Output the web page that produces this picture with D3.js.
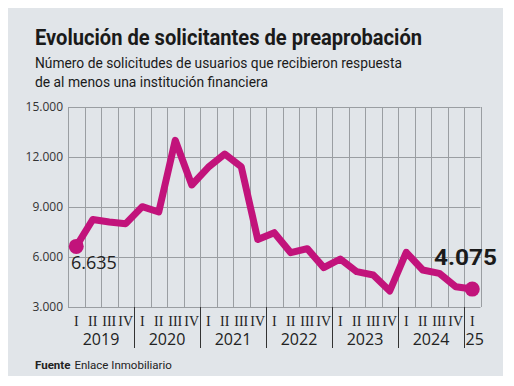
<!DOCTYPE html>
<html>
<head>
<meta charset="utf-8">
<script src="https://cdn.jsdelivr.net/npm/d3@7"></script>
<style>
  body { margin: 0; background: #ffffff; }
  svg { display: block; }
</style>
</head>
<body>
<div id="chart"></div>
<script>
// quarters from 2019 I to 2025 I
var quarters = ["I","II","III","IV","I","II","III","IV","I","II","III","IV","I","II","III","IV","I","II","III","IV","I","II","III","IV","I"];
var years = ["2019", "2020", "2021", "2022", "2023", "2024", "25"];
var yearSpans = [4, 4, 4, 4, 4, 4, 1];
var solicitudes = [6635, 8250, 8100, 8000, 9020, 8700, 13000, 10320, 11380, 12180, 11420, 7050,
                   7460, 6260, 6500, 5360, 5880, 5120, 4920, 3960, 6280, 5220, 5020, 4220, 4075];
var yTicks = [3000, 6000, 9000, 12000, 15000];

var width = 514, height = 386;
var plotLeft = 68, plotRight = 480.5, plotTop = 107, plotBottom = 307;
var magenta = "#c2137b";

var svg = d3.select("#chart").append("svg")
  .attr("width", width)
  .attr("height", height);

// background panel
svg.append("rect")
  .attr("x", 8).attr("y", 8)
  .attr("width", 495).attr("height", 368)
  .attr("fill", "#e1e5e9");

// title and subtitle
svg.append("text")
  .attr("x", 35).attr("y", 45)
  .attr("font-family", "Roboto")
  .attr("font-weight", "bold")
  .attr("font-size", 22)
  .attr("fill", "#1a1a1a")
  .attr("textLength", 387)
  .attr("lengthAdjust", "spacingAndGlyphs")
  .text("Evolución de solicitantes de preaprobación");

svg.append("text")
  .attr("x", 35).attr("y", 68)
  .attr("font-family", "Roboto")
  .attr("font-size", 15)
  .attr("fill", "#1a1a1a")
  .attr("textLength", 367)
  .attr("lengthAdjust", "spacingAndGlyphs")
  .text("Número de solicitudes de usuarios que recibieron respuesta");

svg.append("text")
  .attr("x", 35).attr("y", 87)
  .attr("font-family", "Roboto")
  .attr("font-size", 15)
  .attr("fill", "#1a1a1a")
  .attr("textLength", 233)
  .attr("lengthAdjust", "spacingAndGlyphs")
  .text("de al menos una institución financiera");

// scales
var x = d3.scaleBand()
  .domain(d3.range(quarters.length))
  .range([plotLeft, plotRight])
  .padding(0);

var y = d3.scaleLinear()
  .domain([3000, 15000])
  .range([plotBottom, plotTop]);

// grid
var grid = svg.append("g").attr("stroke", "#9a9ea2").attr("stroke-width", 1);

grid.selectAll("line.h")
  .data(yTicks)
  .enter()
  .append("line")
  .attr("x1", plotLeft).attr("x2", plotRight)
  .attr("y1", function(d) { return Math.round(y(d)) + 0.5; })
  .attr("y2", function(d) { return Math.round(y(d)) + 0.5; });

var bounds = d3.range(quarters.length + 1).map(function(i) {
  return i < quarters.length ? x(i) : x(quarters.length - 1) + x.bandwidth();
});

grid.selectAll("line.v")
  .data(bounds)
  .enter()
  .append("line")
  .attr("x1", function(d) { return Math.round(d) + 0.5; })
  .attr("x2", function(d) { return Math.round(d) + 0.5; })
  .attr("y1", plotTop).attr("y2", plotBottom);

// y tick labels
svg.selectAll("text.ytick")
  .data(yTicks)
  .enter()
  .append("text")
  .attr("x", 63)
  .attr("y", function(d) { return y(d) + 4; })
  .attr("text-anchor", "end")
  .attr("font-family", "Open Sans")
  .attr("font-size", 12)
  .attr("fill", "#333")
  .text(function(d) { return d3.format(",")(d).replace(",", "."); });

// quarter labels
svg.selectAll("text.q")
  .data(quarters)
  .enter()
  .append("text")
  .attr("x", function(d, i) { return x(i) + x.bandwidth() / 2; })
  .attr("y", 326)
  .attr("text-anchor", "middle")
  .attr("font-family", "Liberation Serif")
  .attr("font-size", 14)
  .attr("fill", "#222")
  .text(function(d) { return d; });

// year labels and separators
var start = 0;
years.forEach(function(yr, k) {
  var x0 = x(start);
  var x1 = x(start + yearSpans[k] - 1) + x.bandwidth();
  svg.append("text")
    .attr("x", yr === "25" ? x0 + 1.5 : (x0 + x1) / 2)
    .attr("y", 345)
    .attr("text-anchor", yr === "25" ? "start" : "middle")
    .attr("font-family", "Open Sans")
    .attr("font-size", 16)
    .attr("fill", "#222")
    .text(yr);
  if (k > 0) {
    svg.append("line")
      .attr("x1", Math.round(x0) + 0.5).attr("x2", Math.round(x0) + 0.5)
      .attr("y1", plotBottom).attr("y2", 348)
      .attr("stroke", "#333")
      .attr("stroke-width", 1);
  }
  start += yearSpans[k];
});

// line
var line = d3.line()
  .x(function(d, i) { return x(i) + x.bandwidth() / 2; })
  .y(function(d) { return y(d); });

svg.append("path")
  .datum(solicitudes)
  .attr("d", line)
  .attr("fill", "none")
  .attr("stroke", magenta)
  .attr("stroke-width", 7)
  .attr("stroke-linejoin", "round")
  .attr("stroke-linecap", "round");

// end points
var ends = [0, solicitudes.length - 1];
svg.selectAll("circle.end")
  .data(ends)
  .enter()
  .append("circle")
  .attr("cx", function(i) { return x(i) + x.bandwidth() / 2; })
  .attr("cy", function(i) { return y(solicitudes[i]); })
  .attr("r", 7.5)
  .attr("fill", magenta);

// value labels
var fmt = function(v) { return d3.format(",")(v).replace(",", "."); };

svg.append("text")
  .attr("x", 71)
  .attr("y", y(solicitudes[0]) + 23)
  .attr("font-family", "Open Sans")
  .attr("font-size", 18)
  .attr("fill", "#222")
  .text(fmt(solicitudes[0]));

svg.append("text")
  .attr("x", 434)
  .attr("y", 265)
  .attr("font-family", "Roboto")
  .attr("font-weight", "bold")
  .attr("font-size", 22)
  .attr("fill", "#1a1a1a")
  .attr("textLength", 63)
  .attr("lengthAdjust", "spacingAndGlyphs")
  .text(fmt(solicitudes[solicitudes.length - 1]));

// source
svg.append("text")
  .attr("x", 35).attr("y", 369)
  .attr("font-family", "Roboto")
  .attr("font-size", 11.5)
  .attr("fill", "#222")
  .call(function(t) {
    t.append("tspan").attr("font-weight", "bold").text("Fuente");
    t.append("tspan").attr("dx", 4).text("Enlace Inmobiliario");
  });
</script>
</body>
</html>
